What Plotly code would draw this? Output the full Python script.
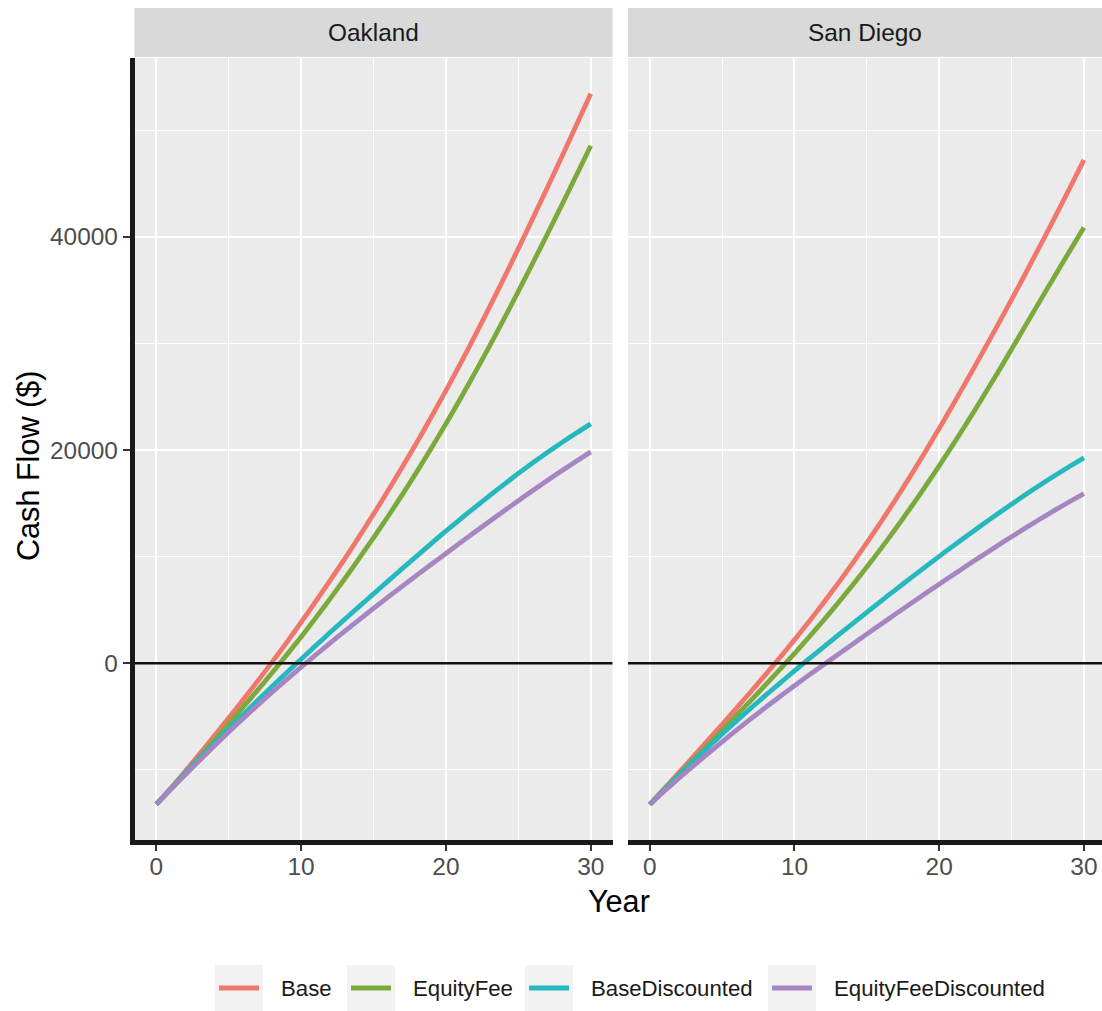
import plotly.graph_objects as go

# ---------------- data ----------------
years = list(range(31))
cities = ["Oakland", "San Diego"]
series_names = ["Base", "EquityFee", "BaseDiscounted", "EquityFeeDiscounted"]

oakland_base = [-13250, -11730, -10130, -8500, -6840, -5150, -3430, -1680, 100, 1940,
                3830, 5770, 7750, 9770, 11850, 13990, 16180, 18430, 20740, 23120,
                25580, 28110, 30710, 33380, 36110, 38900, 41740, 44620, 47530, 50470, 53430]
oakland_equityfee = [-13250, -11820, -10320, -8800, -7260, -5700, -4120, -2520, -900, 760,
                     2470, 4230, 6040, 7900, 9810, 11770, 13770, 15840, 17980, 20190,
                     22470, 24820, 27240, 29730, 32280, 34890, 37550, 40250, 42990, 45760, 48550]
oakland_basediscounted = [-13250, -11780, -10340, -8930, -7540, -6170, -4820, -3490, -2180, -890,
                          380, 1635, 2875, 4100, 5310, 6505, 7705, 8895, 10075, 11245,
                          12405, 13525, 14625, 15705, 16765, 17805, 18805, 19770, 20700, 21595, 22455]
oakland_equityfeediscounted = [-13250, -11850, -10470, -9110, -7770, -6450, -5180, -3940, -2730, -1540,
                               -370, 770, 1890, 2990, 4070, 5140, 6200, 7240, 8270, 9290,
                               10300, 11310, 12310, 13300, 14280, 15250, 16210, 17150, 18070, 18960, 19830]

sandiego_base = [-13250, -11770, -10280, -8780, -7270, -5750, -4210, -2650, -1070, 540,
                 2190, 3890, 5650, 7470, 9350, 11290, 13300, 15380, 17530, 19750,
                 22030, 24360, 26740, 29160, 31620, 34120, 36660, 39240, 41860, 44520, 47220]
sandiego_equityfee = [-13250, -11870, -10490, -9100, -7710, -6310, -4900, -3480, -2040, -580,
                      910, 2440, 4010, 5630, 7300, 9020, 10800, 12640, 14540, 16500,
                      18520, 20600, 22740, 24930, 27170, 29460, 31770, 34070, 36360, 38630, 40880]
sandiego_basediscounted = [-13250, -11890, -10550, -9230, -7930, -6650, -5410, -4200, -3020, -1860,
                           -720, 400, 1510, 2610, 3700, 4780, 5850, 6910, 7960, 9000,
                           10030, 11040, 12035, 13015, 13980, 14925, 15850, 16750, 17620, 18460, 19270]
sandiego_equityfeediscounted = [-13250, -12020, -10820, -9650, -8500, -7370, -6270, -5200, -4150, -3120,
                                -2110, -1120, -150, 810, 1770, 2730, 3680, 4630, 5570, 6500,
                                7420, 8330, 9230, 10120, 11000, 11870, 12720, 13550, 14360, 15150, 15920]

x_tick_vals = [0, 10, 20, 30]
x_tick_labels = ["0", "10", "20", "30"]
x_minor_vals = [5, 15, 25]
y_tick_vals = [0, 20000, 40000]
y_tick_labels = ["0", "20000", "40000"]
y_minor_vals = [-10000, 10000, 30000, 50000]

city_data = {
    "Oakland": [oakland_base, oakland_equityfee, oakland_basediscounted, oakland_equityfeediscounted],
    "San Diego": [sandiego_base, sandiego_equityfee, sandiego_basediscounted, sandiego_equityfeediscounted],
}

colors = ["#F0776C", "#7BAA3C", "#25B8BE", "#A685C2"]

# ---------------- layout helpers ----------------
W, H = 1102, 1011
FONT = "Liberation Sans, Arial, Helvetica, sans-serif"
LINE_W = 4.8


def fx(p):
    return p / W


def fy(p):
    return 1 - p / H


panel_top, panel_bottom = 58, 840
x_domains = [[fx(134.5), fx(612.5)], [fx(628), 1.0]]
x_ranges = [[-1.5, 31.5], [-1.5, 31.25]]
y_range = [-16585, 56785]

fig = go.Figure()
for ci, city in enumerate(cities):
    xa = "x" if ci == 0 else "x2"
    ya = "y" if ci == 0 else "y2"
    for si, name in enumerate(series_names):
        fig.add_trace(go.Scatter(
            x=years, y=city_data[city][si], mode="lines", name=name,
            legendgroup=name, showlegend=False,
            line=dict(color=colors[si], width=LINE_W, shape="spline", smoothing=0.6),
            xaxis=xa, yaxis=ya,
        ))


def xaxis_cfg(i):
    return dict(
        domain=x_domains[i], range=x_ranges[i], anchor="y" if i == 0 else "y2",
        tickmode="array", tickvals=x_tick_vals, ticktext=x_tick_labels,
        showgrid=True, gridcolor="white", gridwidth=2.2, zeroline=False,
        ticks="outside", ticklen=6, tickwidth=1.6, tickcolor="#333333",
        ticklabelstandoff=-5,
        tickfont=dict(size=24.4, color="#4D4D4D", family=FONT),
        showline=True, linecolor="#1A1A1A", linewidth=4.5,
        minor=dict(tickmode="array", tickvals=x_minor_vals, showgrid=True,
                   gridcolor="white", gridwidth=1.1, ticks=""),
        fixedrange=True,
    )


def yaxis_cfg(i):
    cfg = dict(
        domain=[fy(panel_bottom), fy(panel_top)], range=y_range,
        anchor="x" if i == 0 else "x2",
        tickmode="array", tickvals=y_tick_vals, ticktext=y_tick_labels,
        showgrid=True, gridcolor="white", gridwidth=2.2, zeroline=False,
        minor=dict(tickmode="array", tickvals=y_minor_vals, showgrid=True,
                   gridcolor="white", gridwidth=1.1, ticks=""),
        fixedrange=True,
    )
    if i == 0:
        cfg.update(ticks="outside", ticklen=7, tickwidth=1.6, tickcolor="#333333",
                   tickfont=dict(size=24.4, color="#4D4D4D", family=FONT),
                   showline=True, linecolor="#1A1A1A", linewidth=4.5)
    else:
        cfg.update(showticklabels=False, ticks="", showline=False)
    return cfg


shapes = []
annotations = []
strip_top, strip_bottom = 8, 57
for ci, city in enumerate(cities):
    xref_dom = ("x" if ci == 0 else "x2") + " domain"
    shapes.append(dict(type="rect", xref=xref_dom, yref="paper",
                       x0=0, x1=1, y0=fy(strip_bottom), y1=fy(strip_top),
                       fillcolor="#D9D9D9", line=dict(width=0), layer="below"))
    annotations.append(dict(text=city, xref=xref_dom, yref="paper", x=0.5,
                            y=fy((strip_top + strip_bottom) / 2), showarrow=False,
                            xanchor="center", yanchor="middle",
                            font=dict(size=24.4, color="#1A1A1A", family=FONT)))
    shapes.append(dict(type="line", xref=xref_dom, yref="y" if ci == 0 else "y2",
                       x0=0, x1=1, y0=0, y1=0,
                       line=dict(color="#111111", width=2.6), layer="above"))

annotations.append(dict(text="Year", xref="paper", yref="paper", x=fx(619), y=fy(901),
                        showarrow=False, xanchor="center", yanchor="middle",
                        font=dict(size=30.6, color="#000000", family=FONT)))
annotations.append(dict(text="Cash Flow ($)", xref="paper", yref="paper", x=fx(28), y=fy(466),
                        showarrow=False, xanchor="center", yanchor="middle", textangle=-90,
                        font=dict(size=30.6, color="#000000", family=FONT)))

# ---------------- legend (ggplot-style keys) ----------------
legend_key_left = [215, 347, 525, 768]
key_w, key_top, key_bottom = 48, 965, 1011
legend_mid = (key_top + key_bottom) / 2
for si, name in enumerate(series_names):
    kx = legend_key_left[si]
    shapes.append(dict(type="rect", xref="paper", yref="paper",
                       x0=fx(kx), x1=fx(kx + key_w), y0=fy(key_bottom), y1=fy(key_top),
                       fillcolor="#F2F2F2", line=dict(width=0), layer="above"))
    shapes.append(dict(type="line", xref="paper", yref="paper",
                       x0=fx(kx + 4), x1=fx(kx + key_w - 4), y0=fy(legend_mid), y1=fy(legend_mid),
                       line=dict(color=colors[si], width=LINE_W), layer="above"))
    annotations.append(dict(text=name, xref="paper", yref="paper", x=fx(kx + 64), y=fy(legend_mid),
                            showarrow=False, xanchor="left", yanchor="middle",
                            font=dict(size=22.2, color="#1A1A1A", family=FONT)))

fig.update_layout(
    width=W, height=H,
    margin=dict(l=0, r=0, t=0, b=0),
    paper_bgcolor="white", plot_bgcolor="#EBEBEB",
    xaxis=xaxis_cfg(0), xaxis2=xaxis_cfg(1),
    yaxis=yaxis_cfg(0), yaxis2=yaxis_cfg(1),
    shapes=shapes, annotations=annotations,
    showlegend=False,
    hovermode=False,
)

fig.write_html("out.html", config={"displayModeBar": False},
               post_script="document.body.style.margin='0px';")
